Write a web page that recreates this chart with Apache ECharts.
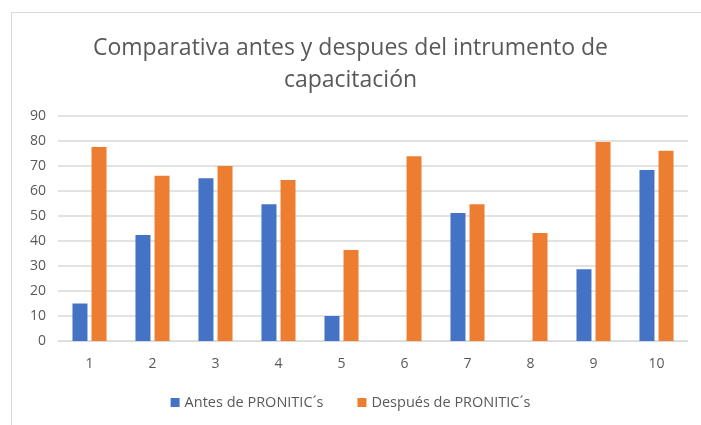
<!DOCTYPE html>
<html>
<head>
<meta charset="utf-8">
<script src="https://cdn.jsdelivr.net/npm/echarts@6/dist/echarts.min.js"></script>
<style>
  html, body { margin: 0; padding: 0; background: #fff; }
  #chart { width: 701px; height: 425px; }
</style>
</head>
<body>
<div id="chart"></div>
<script>
const categories = ['1', '2', '3', '4', '5', '6', '7', '8', '9', '10']
const antes = [15, 42.4, 65.1, 54.7, 10, 0, 51.2, 0, 28.7, 68.4]
const despues = [77.6, 66.1, 70, 64.4, 36.4, 73.9, 54.7, 43.2, 79.6, 76.1]
const yTicks = { min: 0, max: 90, interval: 10 }

const myChart = echarts.init(document.getElementById('chart'))
const font = 'Open Sans'

const option = {
  animation: false,
  textStyle: { fontFamily: font },
  title: {
    text: 'Comparativa antes y despues del intrumento de\ncapacitación',
    left: 'center',
    top: 27,
    textStyle: {
      fontFamily: font,
      fontSize: 23,
      fontWeight: 'normal',
      color: '#595959',
      lineHeight: 32
    }
  },
  graphic: [{
    type: 'rect',
    shape: { x: 11.5, y: 12.5, width: 690, height: 420 },
    style: { fill: 'none', stroke: '#d9d9d9', lineWidth: 1 },
    silent: true
  }],
  legend: {
    bottom: 10,
    left: 'center',
    itemWidth: 9,
    itemHeight: 9,
    itemGap: 34,
    icon: 'rect',
    textStyle: { fontFamily: font, fontSize: 14.5, color: '#595959' },
    data: ['Antes de PRONITIC´s', 'Después de PRONITIC´s']
  },
  grid: { left: 58, right: 13, top: 116, bottom: 84, containLabel: false },
  xAxis: {
    type: 'category',
    data: categories,
    axisTick: { show: false },
    axisLine: { lineStyle: { color: '#d9d9d9', width: 1 } },
    axisLabel: { color: '#595959', fontSize: 14, margin: 16, fontFamily: font }
  },
  yAxis: {
    type: 'value',
    min: yTicks.min,
    max: yTicks.max,
    interval: yTicks.interval,
    axisLine: { show: false },
    axisTick: { show: false },
    axisLabel: { color: '#595959', fontSize: 14, margin: 12, fontFamily: font },
    splitLine: { lineStyle: { color: '#d9d9d9', width: 1.5 } }
  },
  series: [
    {
      name: 'Antes de PRONITIC´s',
      type: 'bar',
      data: antes,
      barWidth: 15,
      barGap: '27%',
      itemStyle: { color: '#4472c4' }
    },
    {
      name: 'Después de PRONITIC´s',
      type: 'bar',
      data: despues,
      barWidth: 15,
      itemStyle: { color: '#ed7d31' }
    }
  ]
}
myChart.setOption(option)
</script>
</body>
</html>
